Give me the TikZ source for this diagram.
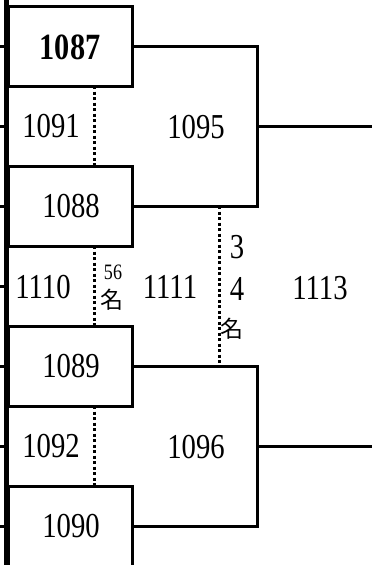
\documentclass[tikz,border=0pt]{standalone}
\usepackage{fontspec}
\setmainfont[FakeStretch=0.82]{Liberation Serif}
\newfontfamily\jp{Noto Sans CJK JP}
\usepackage{tikz}

\begin{document}
\begin{tikzpicture}[x=1pt, y=-1pt,
  entrant/.style={shape=rectangle, draw, line width=3pt, minimum width=124pt, minimum height=80pt, inner sep=0pt},
  bracket/.style={line width=3pt},
  dotline/.style={line width=3pt, dash pattern=on 3pt off 2.5pt},
  num/.style={font=\fontsize{35}{35}\selectfont, inner sep=0pt},
  small/.style={font=\fontsize{22}{22}\selectfont, inner sep=0pt},
  mei/.style={font=\jp\fontsize{23}{23}\selectfont, inner sep=0pt}]
\useasboundingbox (0, 0) rectangle (372, 565);
\clip (0, 0) rectangle (372, 565);
% left rail and ticks
\draw [line width=5pt] (6.5, 0) -- (6.5, 565);
\foreach \y in {46, 126, 206, 286, 366, 446, 526}
  \draw [line width=3pt] (0, \y) -- (6, \y);
% entrant boxes
\node at (70, 46) [entrant] (b1087) {};
\node at (70, 206) [entrant] (b1088) {};
\node at (70, 366) [entrant] (b1089) {};
\node at (70, 526) [entrant] (b1090) {};
\node at (70, 47) [font=\bfseries\fontsize{37}{37}\selectfont, inner sep=0pt] {1087};
\node at (71, 206) [num] {1088};
\node at (71, 366) [num] {1089};
\node at (71, 526) [num] {1090};
% bracket corners
\coordinate (t1) at (257, 46);
\coordinate (t2) at (257, 206);
\coordinate (t3) at (257, 366);
\coordinate (t4) at (257, 526);
\coordinate (m1) at (257, 126);
\coordinate (m2) at (257, 446);
\coordinate (e1) at (372, 126);
\coordinate (e2) at (372, 446);
\draw [bracket] (b1087.east) -- (t1) -- (t2) -- (b1088.east);
\draw [bracket] (b1089.east) -- (t3) -- (t4) -- (b1090.east);
\draw [bracket] (m1) -- (e1);
\draw [bracket] (m2) -- (e2);
% dotted separators
\draw [dotline] (94, 86) -- (94, 166);
\draw [dotline] (94, 246) -- (94, 326);
\draw [dotline] (94, 406) -- (94, 486);
\coordinate (d1) at (219, 206);
\coordinate (d2) at (219, 366);
\draw [dotline] (d1) -- (d2);
% labels
\node at (51, 126) [num] (l1091) {1091};
\node at (196, 127) [num] (l1095) {1095};
\node at (43, 287) [num] (l1110) {1110};
\node at (113, 272) [small] (l56) {56};
\node at (112, 300) [mei] (l56m) {名};
\node at (170, 287) [num] (l1111) {1111};
\node at (237, 247) [num] (l3) {3};
\node at (237, 289) [num] (l4) {4};
\node at (232, 329) [mei] (l34m) {名};
\node at (320, 288) [num] (l1113) {1113};
\node at (51, 446) [num] (l1092) {1092};
\node at (196, 447) [num] (l1096) {1096};
\end{tikzpicture}
\end{document}
